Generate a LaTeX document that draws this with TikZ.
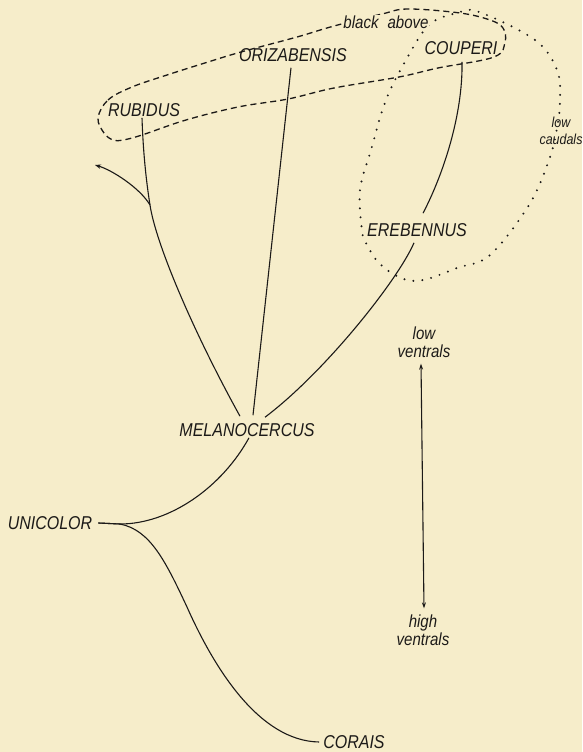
\documentclass[tikz,border=0pt]{standalone}
\usepackage{fontspec}
\setsansfont[FakeStretch=0.86]{Liberation Sans}
\usetikzlibrary{arrows.meta}
\definecolor{paper}{RGB}{246,237,202}
\definecolor{ink}{RGB}{28,26,24}

\begin{document}
\begin{tikzpicture}[x=1pt,y=-1pt,
		taxon/.style={font=\sffamily\itshape\fontsize{18.6}{20}\selectfont,text=ink,inner sep=1pt},
		note/.style={font=\sffamily\itshape\fontsize{17.5}{18}\selectfont,text=ink,inner sep=1pt,align=center},
		branch/.style={draw=ink,line width=1.1pt},
		tip/.style={-{Stealth[length=6pt,width=4.5pt]}}]
	\fill[paper] (0,0) rectangle (582,752);
	\useasboundingbox (0,0) rectangle (582,752);
	% groups
	\draw[ink,line width=1.3pt,dash pattern=on 6pt off 4pt] plot[smooth cycle,tension=0.6] coordinates
		{(98,118)(108,100)(132,87)(167,75)(208,62)(241,52)(297,37)(334,26)(382,14)(408,9)(460,13)(490,20)(503,28)(505,42)(494,57)
		(438,68)(399,77)(334,88)(288,99)(238,107)(186,120)(142,135)(123,140)(113,140)(104,133)};
	\draw[ink,line width=2.2pt,line cap=round,dash pattern=on 0pt off 9pt] plot[smooth cycle,tension=0.6] coordinates
		{(479,12)(535,40)(557,70)(560,100)(557,128)(549,160)(529,205)(490,255)(457,268)(423,280)(401,278)(379,263)(366,243)
		(362,230)(360,190)(371,150)(386,100)(406,60)(429,25)(457,13)};
	% taxa
	\node[taxon] (rub) at (144,110) {RUBIDUS};
	\node[taxon] (oriz) at (293,55) {ORIZABENSIS};
	\node[taxon] (coup) at (461,48) {COUPERI};
	\node[taxon] (ereb) at (417,230) {EREBENNUS};
	\node[taxon] (mel) at (247,430) {MELANOCERCUS};
	\node[taxon] (uni) at (50,523) {UNICOLOR};
	\node[taxon] (cor) at (354,742) {CORAIS};
	\node[note,fill=paper,inner sep=0.5pt] (blk) at (386,22) {black\hspace{9pt}above};
	\node[note,font=\sffamily\itshape\fontsize{14.5}{17}\selectfont] (caud) at (561,131) {low\\caudals};
	\node[note] (lowv) at (424,342) {low\\ventrals};
	\node[note] (highv) at (423,630) {high\\ventrals};
	\coordinate (fork) at (150,205);
	\coordinate (lost) at (95,165);
	% branches
	\draw[branch] ([xshift=-2pt]rub.south) .. controls (143,150) and (146,180) .. (fork)
		.. controls (156,245) and (195,335) .. ([xshift=-7pt,yshift=6pt]mel.north);
	\draw[branch,tip] (fork) .. controls (140,188) and (112,170) .. (lost);
	\draw[branch] ([xshift=-2pt,yshift=-5pt]oriz.south) -- ([xshift=6pt,yshift=7pt]mel.north);
	\draw[branch] ([xshift=1pt,yshift=-6pt]coup.south) .. controls (463,115) and (443,175) .. ([xshift=6pt,yshift=9pt]ereb.north);
	\draw[branch] ([xshift=-3pt,yshift=-5pt]ereb.south) .. controls (398,280) and (325,372) .. ([xshift=18pt,yshift=5pt]mel.north);
	\draw[branch] ([xshift=2pt]mel.south) .. controls (222,487) and (170,524) .. (120,524) -- ([xshift=5pt]uni.east);
	\draw[branch] ([xshift=5pt]uni.east) -- (120,524) .. controls (150,530) and (165,560) .. (187,607)
		.. controls (215,670) and (260,741) .. ([xshift=-3pt]cor.west);
	\draw[branch,{Stealth[length=6pt,width=4pt]}-{Stealth[length=6pt,width=4pt]}]
		([xshift=-3pt,yshift=-5pt]lowv.south) -- ([yshift=5pt]lowv.south |- highv.north);
\end{tikzpicture}
\end{document}
